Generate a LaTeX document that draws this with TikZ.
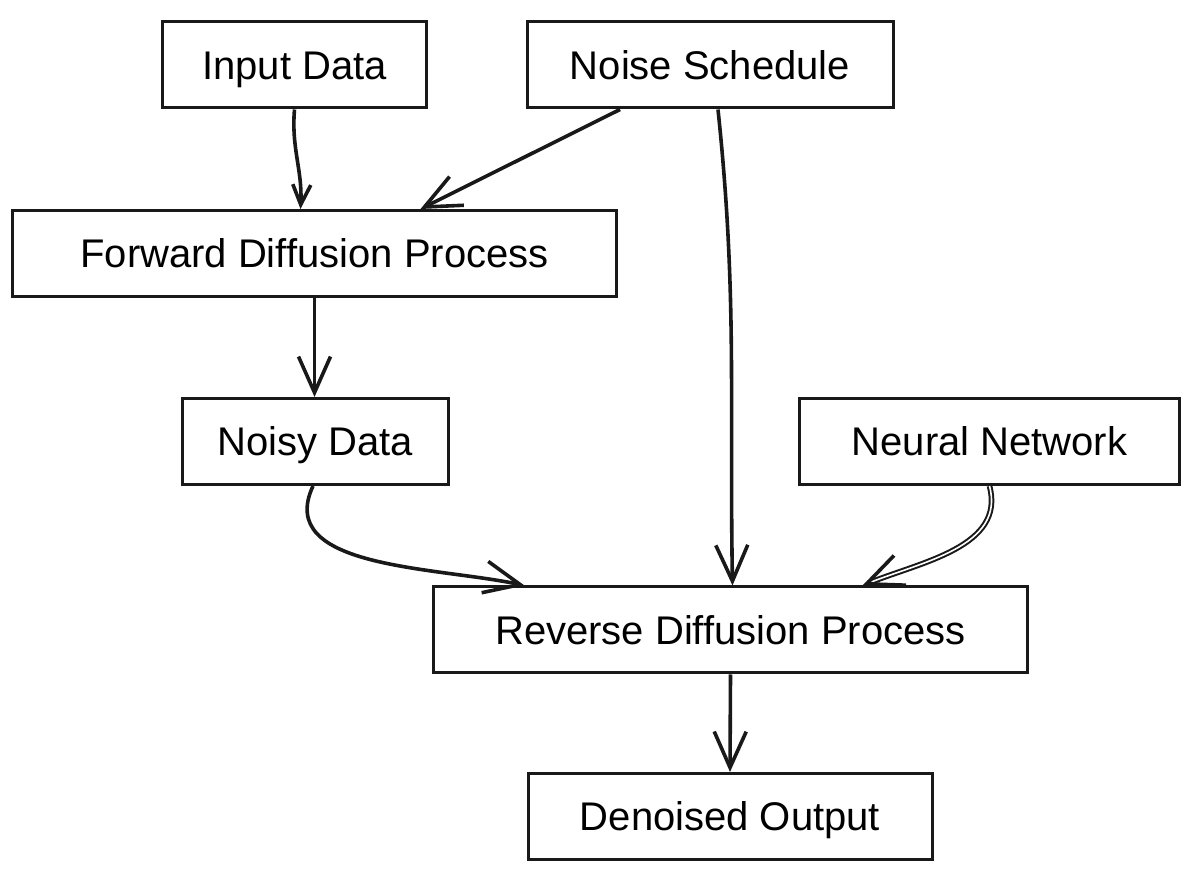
\documentclass[tikz,border=0pt]{standalone}
\usepackage{fontspec}
\setmainfont{Liberation Sans}
\usetikzlibrary{arrows.meta}

\begin{document}
\begin{tikzpicture}[x=0.5pt, y=-0.5pt,
        box/.style = {draw=black!90, line width=1.5pt, minimum height=43pt,
                      inner sep=0pt, text height=14.5pt, text depth=0pt,
                      font=\fontsize{20}{24}\selectfont},
        flow/.style = {draw=black!90, line width=1.8pt,
                       -{Straight Barb[length=18pt, width=16pt, line width=1.8pt]}},
        shortflow/.style = {flow, -{Straight Barb[length=10pt, width=9pt, line width=1.8pt]}}]
        \useasboundingbox (0,0) rectangle (1190,876);
        % boxes
        \node[box, minimum width=132pt] (input) at (294.5,65) {Input Data};
        \node[box, minimum width=183pt] (noise) at (710,65) {Noise Schedule};
        \node[box, minimum width=302pt] (fwd) at (314.5,253.5) {Forward Diffusion Process};
        \node[box, minimum width=133pt] (noisy) at (315,441.5) {Noisy Data};
        \node[box, minimum width=190pt] (net) at (989.5,441.5) {Neural Network};
        \node[box, minimum width=297pt] (rev) at (730.5,630) {Reverse Diffusion Process};
        \node[box, minimum width=202pt] (out) at (730,816.5) {Denoised Output};
        % connectors
        \draw[shortflow] (input.south) to[out=-95, in=87] ([xshift=3pt]input.south |- fwd.north);
        \draw[flow] ([xshift=-45pt]noise.south) -- ([xshift=53pt]fwd.north);
        \draw[flow] ([xshift=4pt]noise.south) to[out=-84, in=91] ([xshift=1pt]rev.north);
        \draw[flow] (fwd.south) -- (fwd.south |- noisy.north);
        \draw[flow] ([xshift=-1pt]noisy.south) to[out=-115, in=168] ([xshift=-103pt]rev.north);
        % double line from the network
        \draw[flow, line width=1pt, double=white, double distance=0.8pt]
            ([xshift=0pt]net.south) to[out=-75, in=22] ([xshift=66pt]rev.north);
        \draw[flow] (rev.south) -- (out.north);
\end{tikzpicture}
\end{document}
